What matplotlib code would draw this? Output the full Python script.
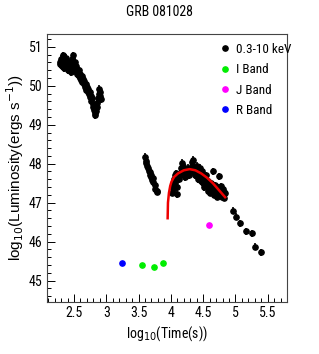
import matplotlib
matplotlib.use("Agg")
import matplotlib.pyplot as plt
from matplotlib import font_manager
from matplotlib.ticker import MultipleLocator

# ROOT-like condensed Helvetica if something close is installed
names = {f.name for f in font_manager.fontManager.ttflist}
narrow = None
for cand in ['Liberation Sans Narrow', 'Roboto Condensed', 'Open Sans Condensed']:
    if cand in names:
        narrow = cand
        break
plt.rcParams['font.family'] = ['Liberation Sans', 'DejaVu Sans']
if narrow:
    nfam = [narrow, 'Liberation Sans']
    nscale = 1.0
else:
    nfam = ['Liberation Sans', 'DejaVu Sans']
    nscale = 0.85

# X-ray (0.3-10 keV) light curve
xray_t = [2.28, 2.29, 2.30, 2.31, 2.32, 2.33, 2.34, 2.35, 2.36, 2.37, 2.38, 2.39, 2.40, 2.41,
          2.42, 2.43, 2.44, 2.45, 2.46, 2.47, 2.48, 2.49, 2.50, 2.51, 2.52, 2.53, 2.54, 2.55,
          2.56, 2.57, 2.58, 2.59, 2.60, 2.61, 2.62, 2.63, 2.64, 2.65, 2.66, 2.67, 2.68, 2.69,
          2.70, 2.71, 2.72, 2.73, 2.74, 2.75, 2.76, 2.77, 2.78, 2.79, 2.80, 2.81, 2.82, 2.83,
          2.84, 2.85, 2.86, 2.87, 2.88, 2.89, 2.90, 2.91, 2.92,
          3.60, 3.61, 3.62, 3.63, 3.64, 3.66, 3.67, 3.68, 3.69, 3.70, 3.71, 3.72, 3.73, 3.75,
          3.76, 3.78, 3.79,
          4.02, 4.03, 4.04, 4.05, 4.06, 4.07, 4.08, 4.09, 4.10, 4.12, 4.14, 4.16, 4.17, 4.18,
          4.19, 4.20, 4.21, 4.22, 4.24, 4.26, 4.28, 4.30, 4.32, 4.33, 4.34, 4.35, 4.36, 4.37,
          4.38, 4.40, 4.42, 4.43, 4.45, 4.46, 4.47, 4.48, 4.50, 4.51, 4.52, 4.53, 4.55, 4.56,
          4.57, 4.58, 4.60, 4.61, 4.62, 4.64, 4.65, 4.66, 4.67, 4.68, 4.70, 4.71, 4.72, 4.73,
          4.75, 4.76, 4.77, 4.78, 4.79, 4.80, 4.81, 4.82, 4.83, 4.84,
          4.96, 5.01, 5.07, 5.17, 5.25, 5.30, 5.40]
xray_L = [50.62, 50.55, 50.70, 50.50, 50.65, 50.78, 50.58, 50.45, 50.68, 50.72, 50.52, 50.60, 50.40, 50.62,
          50.55, 50.42, 50.50, 50.35, 50.58, 50.70, 50.78, 50.55, 50.45, 50.62, 50.38, 50.50, 50.30, 50.42,
          50.35, 50.25, 50.40, 50.20, 50.30, 50.15, 50.25, 50.10, 50.18, 50.05, 50.12, 49.98, 50.05, 49.90,
          49.98, 49.85, 49.92, 49.78, 49.85, 49.70, 49.75, 49.62, 49.68, 49.52, 49.45, 49.38, 49.30, 49.25,
          49.35, 49.45, 49.55, 49.68, 49.80, 49.92, 49.85, 49.75, 49.65,
          48.18, 48.08, 48.02, 47.95, 47.90, 47.82, 47.70, 47.78, 47.65, 47.72, 47.58, 47.62, 47.52, 47.45,
          47.35, 47.30, 47.28,
          47.25, 47.45, 47.35, 47.60, 47.70, 47.50, 47.75, 47.40, 47.22, 47.60, 47.70, 47.90, 48.02, 47.80,
          47.95, 47.70, 47.85, 47.65, 47.75, 47.90, 47.70, 47.85, 48.05, 47.95, 48.10, 47.80, 47.90, 47.70,
          47.85, 47.95, 47.60, 47.75, 47.90, 47.55, 47.70, 47.80, 47.50, 47.65, 47.40, 47.58, 47.70, 47.45,
          47.30, 47.55, 47.35, 47.25, 47.50, 47.40, 47.80, 47.30, 47.20, 47.45, 47.35, 47.25, 47.15, 47.40,
          47.68, 47.30, 47.20, 47.42, 47.15, 47.35, 47.20, 47.28, 47.12, 47.25,
          46.79, 46.64, 46.47, 46.26, 46.22, 45.87, 45.72]
xray_err = 0.09

# optical / NIR bands
i_t = [3.55, 3.74, 3.88]
i_L = [45.40, 45.35, 45.45]
j_t = [4.59]
j_L = [46.42]
r_t = [3.24]
r_L = [45.45]

# fitted flare model (red line)
fit_t = [3.95, 3.955, 3.97, 3.99, 4.01, 4.05, 4.11, 4.20, 4.29, 4.38, 4.47, 4.56, 4.65, 4.74, 4.84]
fit_L = [46.60, 47.00, 47.25, 47.43, 47.54, 47.66, 47.75, 47.83, 47.86, 47.83, 47.75, 47.64, 47.50, 47.33, 47.14]

fig = plt.figure(figsize=(3.19, 3.54), dpi=100)
ax = fig.add_axes([0.147, 0.147, 0.753, 0.757])

ax.errorbar(xray_t, xray_L, yerr=xray_err, fmt='none', ecolor='black', elinewidth=1.2,
            capsize=0, zorder=3)
ax.plot(xray_t, xray_L, 'o', color='black', ms=3.8, label='0.3-10 keV', zorder=3)
ax.plot(i_t, i_L, 'o', color='#00ee00', ms=3.8, label='I Band')
ax.plot(j_t, j_L, 'o', color='#ff00ff', ms=3.8, label='J Band')
ax.plot(r_t, r_L, 'o', color='#0000ff', ms=3.8, label='R Band')
ax.plot(fit_t, fit_L, '-', color='#ee0000', lw=1.8, zorder=4)

ax.set_xlim(2.08, 5.8)
ax.set_ylim(44.45, 51.33)
ax.xaxis.set_major_locator(MultipleLocator(0.5))
ax.xaxis.set_minor_locator(MultipleLocator(0.1))
ax.yaxis.set_major_locator(MultipleLocator(1))
ax.yaxis.set_minor_locator(MultipleLocator(0.2))
ax.tick_params(which='both', direction='in', top=False, right=False, pad=3)
ax.tick_params(which='major', length=6, width=0.7)
ax.tick_params(which='minor', length=3, width=0.7)
ax.xaxis.set_major_formatter(plt.FuncFormatter(lambda v, p: '%g' % v))
for lab in ax.get_xticklabels() + ax.get_yticklabels():
    lab.set_family(nfam)
    lab.set_fontsize(10 * nscale)
for s in ax.spines.values():
    s.set_linewidth(0.8)
    s.set_color('#444444')

ax.set_xlabel(r'log$_{10}$(Time(s))', fontsize=10 * nscale, family=nfam, labelpad=3)
ax.set_ylabel(r'log$_{10}$(Luminosity(ergs s$^{-1}$))', fontsize=11)
ax.yaxis.set_label_coords(-0.085, 0.5)
fig.text(0.5, 0.965, 'GRB 081028', ha='center', va='center', fontsize=10 * nscale, family=nfam)

ax.legend(loc='upper left', bbox_to_anchor=(0.725, 0.966), frameon=False,
          prop={'family': nfam, 'size': 9.5 * nscale},
          handlelength=0.6, handletextpad=0.5, labelspacing=0.55, borderaxespad=0,
          borderpad=0, markerscale=1.0)

fig.savefig('out.png', dpi=100)
